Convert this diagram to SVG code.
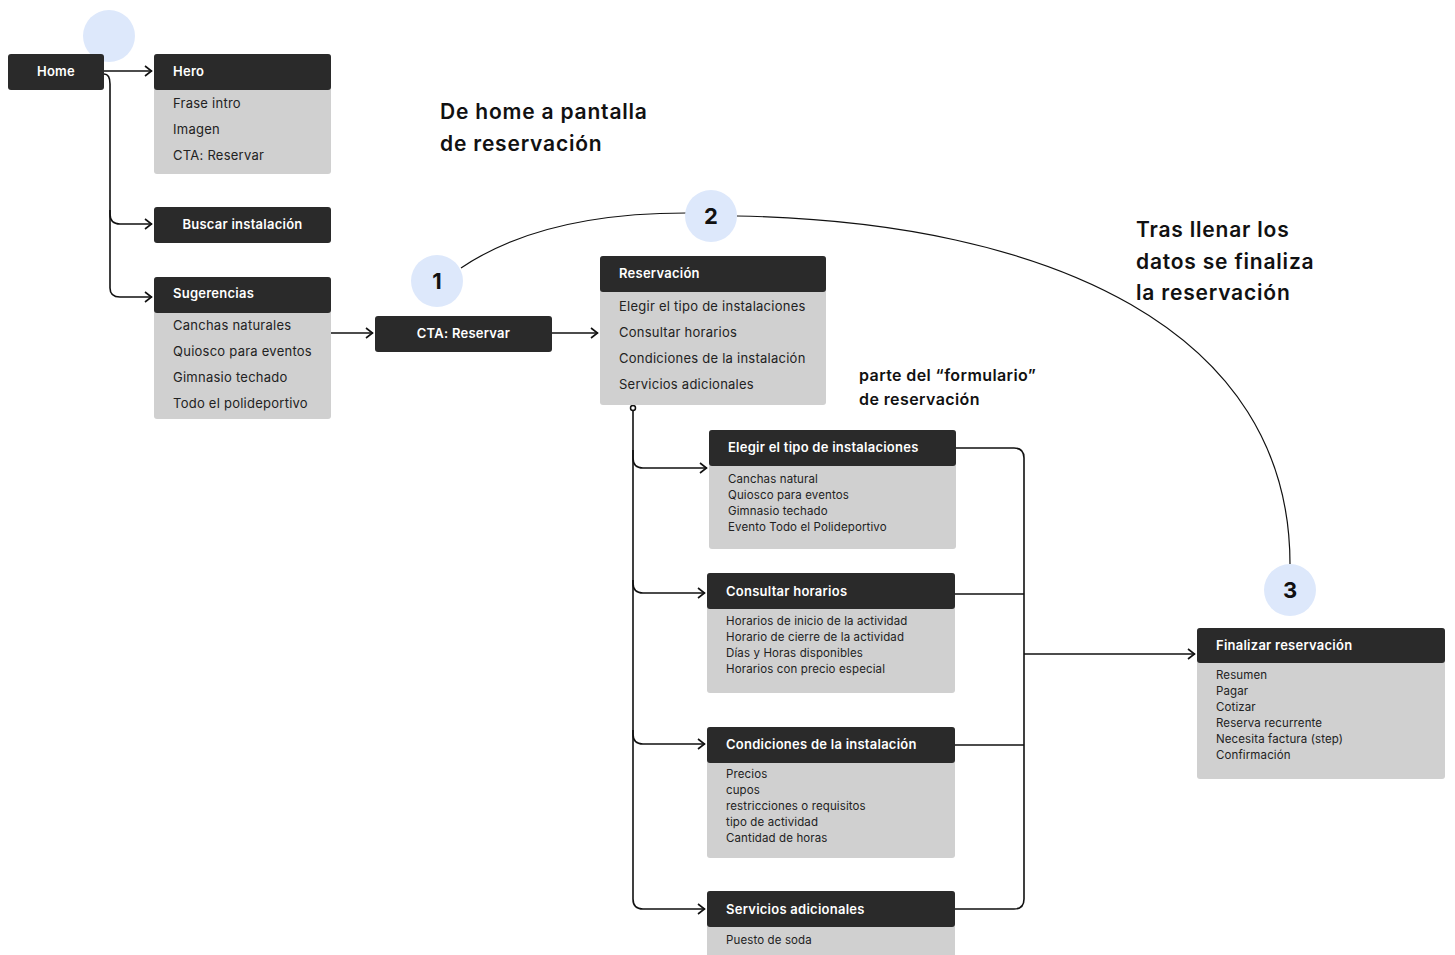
<svg xmlns="http://www.w3.org/2000/svg" width="1455" height="955" viewBox="0 0 1455 955">
<defs>
<marker id="arr" viewBox="0 0 10 12" refX="9" refY="6" markerWidth="10" markerHeight="12" markerUnits="userSpaceOnUse" orient="auto">
<path d="M2,1 L8.5,6 L2,11" fill="none" stroke="#111" stroke-width="1.6"/>
</marker>
</defs>
<style>
text{font-family:"Inter","Liberation Sans",sans-serif;}
.hd{fill:#2a2a2a;}
.bd{fill:#d0d0d0;}
.ht{fill:#fff;font-size:13px;font-weight:600;letter-spacing:0.25px;}
.it{fill:#222;font-size:13px;letter-spacing:0.25px;}
.sm{fill:#222;font-size:11.5px;letter-spacing:0.12px;}
.ttl{fill:#111;font-size:21px;font-weight:600;letter-spacing:0.8px;}
.nt{fill:#111;font-size:16px;font-weight:600;letter-spacing:0.4px;}
.cir{fill:#dde8fb;}
.num{fill:#111;font-size:22px;font-weight:700;text-anchor:middle;}
.ln{fill:none;stroke:#111;stroke-width:1.6;}
.tn{fill:none;stroke:#111;stroke-width:1.2;}
</style>
<rect width="1455" height="955" fill="#fff"/>

<g id="connectors">
<path class="ln" d="M104,71 L152,71" marker-end="url(#arr)"/>
<path class="ln" d="M104,74 Q110,74 110,84 L110,214 Q110,224 120,224 L152,224" marker-end="url(#arr)"/>
<path class="ln" d="M110,210 L110,288 Q110,297 120,297 L152,297" marker-end="url(#arr)"/>
<path class="ln" d="M331,333 L373,333" marker-end="url(#arr)"/>
<path class="ln" d="M552,333 L598,333" marker-end="url(#arr)"/>
<path class="ln" d="M633,411 L633,458 Q633,468 643,468 L707,468" marker-end="url(#arr)"/>
<path class="ln" d="M633,450 L633,583 Q633,593 643,593 L705,593" marker-end="url(#arr)"/>
<path class="ln" d="M633,580 L633,734 Q633,744 643,744 L705,744" marker-end="url(#arr)"/>
<path class="ln" d="M633,730 L633,899 Q633,909 643,909 L705,909" marker-end="url(#arr)"/>
<circle cx="633" cy="408" r="2.5" fill="#fff" stroke="#111" stroke-width="1.5"/>
<path class="ln" d="M956,448 L1014,448 Q1024,448 1024,458 L1024,899 Q1024,909 1014,909 L955,909"/>
<path class="ln" d="M955,594 L1024,594"/>
<path class="ln" d="M955,745 L1024,745"/>
<path class="ln" d="M1024,654 L1195,654" marker-end="url(#arr)"/>
<path class="tn" d="M461,268 C520,228 600,213 686,213"/>
<path class="tn" d="M737,216 C1050,222 1290,330 1290,564"/>
</g>

<g id="circle-top"><circle class="cir" cx="109" cy="36" r="26"/></g>

<g id="home">
<rect class="hd" x="8" y="54" width="96" height="36" rx="3"/>
<text class="ht" x="56" y="75.5" text-anchor="middle">Home</text>
</g>

<g id="hero">
<rect class="bd" x="154" y="54" width="177" height="120" rx="3"/>
<rect class="hd" x="154" y="54" width="177" height="36" rx="3"/>
<text class="ht" x="173" y="75.5">Hero</text>
<text class="it" x="173" y="108">Frase intro</text>
<text class="it" x="173" y="134">Imagen</text>
<text class="it" x="173" y="160">CTA: Reservar</text>
</g>

<g id="buscar">
<rect class="hd" x="154" y="207" width="177" height="36" rx="3"/>
<text class="ht" x="242.5" y="229" text-anchor="middle">Buscar instalación</text>
</g>

<g id="sugerencias">
<rect class="bd" x="154" y="277" width="177" height="142" rx="3"/>
<rect class="hd" x="154" y="277" width="177" height="36" rx="3"/>
<text class="ht" x="173" y="298">Sugerencias</text>
<text class="it" x="173" y="330">Canchas naturales</text>
<text class="it" x="173" y="356">Quiosco para eventos</text>
<text class="it" x="173" y="382">Gimnasio techado</text>
<text class="it" x="173" y="408">Todo el polideportivo</text>
</g>

<g id="cta">
<rect class="hd" x="375" y="316" width="177" height="36" rx="3"/>
<text class="ht" x="463.5" y="338" text-anchor="middle">CTA: Reservar</text>
</g>

<g id="reservacion">
<rect class="bd" x="600" y="256" width="226" height="149" rx="3"/>
<rect class="hd" x="600" y="256" width="226" height="36" rx="3"/>
<text class="ht" x="619" y="278">Reservación</text>
<text class="it" x="619" y="311">Elegir el tipo de instalaciones</text>
<text class="it" x="619" y="337">Consultar horarios</text>
<text class="it" x="619" y="363">Condiciones de la instalación</text>
<text class="it" x="619" y="389">Servicios adicionales</text>
</g>

<g id="elegir">
<rect class="bd" x="709" y="430" width="247" height="119" rx="3"/>
<rect class="hd" x="709" y="430" width="247" height="36" rx="3"/>
<text class="ht" x="728" y="452">Elegir el tipo de instalaciones</text>
<text class="sm" x="728" y="483">Canchas natural</text>
<text class="sm" x="728" y="499">Quiosco para eventos</text>
<text class="sm" x="728" y="515">Gimnasio techado</text>
<text class="sm" x="728" y="531">Evento Todo el Polideportivo</text>
</g>

<g id="consultar">
<rect class="bd" x="707" y="573" width="248" height="120" rx="3"/>
<rect class="hd" x="707" y="573" width="248" height="36" rx="3"/>
<text class="ht" x="726" y="596">Consultar horarios</text>
<text class="sm" x="726" y="625">Horarios de inicio de la actividad</text>
<text class="sm" x="726" y="641">Horario de cierre de la actividad</text>
<text class="sm" x="726" y="657">Días y Horas disponibles</text>
<text class="sm" x="726" y="673">Horarios con precio especial</text>
</g>

<g id="condiciones">
<rect class="bd" x="707" y="727" width="248" height="131" rx="3"/>
<rect class="hd" x="707" y="727" width="248" height="36" rx="3"/>
<text class="ht" x="726" y="749">Condiciones de la instalación</text>
<text class="sm" x="726" y="778">Precios</text>
<text class="sm" x="726" y="794">cupos</text>
<text class="sm" x="726" y="810">restricciones o requisitos</text>
<text class="sm" x="726" y="826">tipo de actividad</text>
<text class="sm" x="726" y="842">Cantidad de horas</text>
</g>

<g id="servicios">
<rect class="bd" x="707" y="891" width="248" height="70" rx="3"/>
<rect class="hd" x="707" y="891" width="248" height="36" rx="3"/>
<text class="ht" x="726" y="914">Servicios adicionales</text>
<text class="sm" x="726" y="944">Puesto de soda</text>
</g>

<g id="finalizar">
<rect class="bd" x="1197" y="628" width="248" height="151" rx="3"/>
<rect class="hd" x="1197" y="628" width="248" height="35" rx="3"/>
<text class="ht" x="1216" y="650">Finalizar reservación</text>
<text class="sm" x="1216" y="679">Resumen</text>
<text class="sm" x="1216" y="695">Pagar</text>
<text class="sm" x="1216" y="711">Cotizar</text>
<text class="sm" x="1216" y="727">Reserva recurrente</text>
<text class="sm" x="1216" y="743">Necesita factura (step)</text>
<text class="sm" x="1216" y="759">Confirmación</text>
</g>

<g id="step1"><circle class="cir" cx="437" cy="281" r="26"/><text class="num" x="437" y="289">1</text></g>
<g id="step2"><circle class="cir" cx="711" cy="216" r="26"/><text class="num" x="711" y="224">2</text></g>
<g id="step3"><circle class="cir" cx="1290" cy="590" r="26"/><text class="num" x="1290" y="598">3</text></g>

<g id="title1">
<text class="ttl" x="440" y="119">De home a pantalla</text>
<text class="ttl" x="440" y="151">de reservación</text>
</g>
<g id="title2">
<text class="ttl" x="1136" y="237">Tras llenar los</text>
<text class="ttl" x="1136" y="269">datos se finaliza</text>
<text class="ttl" x="1136" y="300">la reservación</text>
</g>
<g id="note">
<text class="nt" x="859" y="381">parte del “formulario”</text>
<text class="nt" x="859" y="405">de reservación</text>
</g>
</svg>
